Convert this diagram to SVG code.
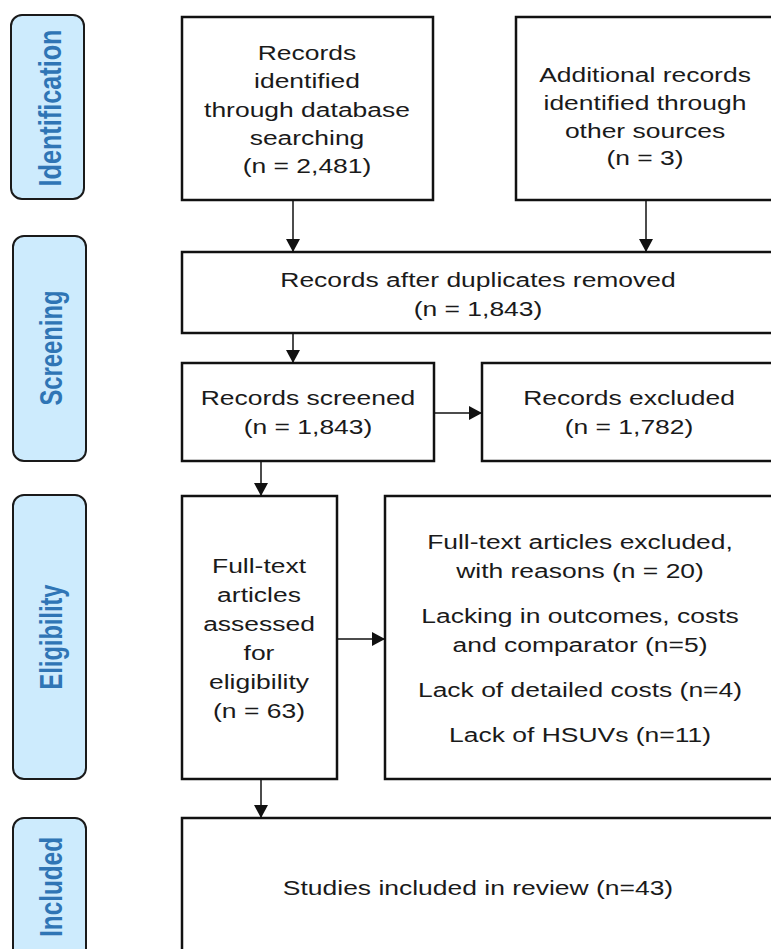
<svg xmlns="http://www.w3.org/2000/svg" width="771" height="949" viewBox="0 0 771 949">
<style>
.side{fill:#CDEBFD;stroke:#1a1a1a;stroke-width:2}
.stxt{font-family:"Liberation Sans",Arial,sans-serif;font-weight:bold;font-size:25px;fill:#2F75B5;text-anchor:middle}
.box{fill:#fff;stroke:#111;stroke-width:2.5}
.t{font-family:"Liberation Sans",Arial,sans-serif;font-size:21px;fill:#1a1a1a;text-anchor:middle}
.conn{stroke:#111;stroke-width:1.5;fill:none}
</style>
<defs>
<marker id="ah" markerUnits="userSpaceOnUse" markerWidth="13" markerHeight="14" refX="13" refY="7" orient="auto">
<path d="M0,0 L13,7 L0,14 z" fill="#111"/>
</marker>
</defs>
<rect width="771" height="949" fill="#fff"/>

<g id="side-identification">
<rect class="side" x="11" y="15" width="73" height="184" rx="11"/>
<text class="stxt" transform="translate(61,108) scale(1.26,1) rotate(-90)" textLength="157" lengthAdjust="spacingAndGlyphs">Identification</text>
</g>
<g id="side-screening">
<rect class="side" x="13" y="236" width="73" height="225" rx="11"/>
<text class="stxt" transform="translate(62,348) scale(1.26,1) rotate(-90)" textLength="115" lengthAdjust="spacingAndGlyphs">Screening</text>
</g>
<g id="side-eligibility">
<rect class="side" x="13" y="495" width="73" height="284" rx="11"/>
<text class="stxt" transform="translate(62,637) scale(1.26,1) rotate(-90)" textLength="105" lengthAdjust="spacingAndGlyphs">Eligibility</text>
</g>
<g id="side-included">
<rect class="side" x="13" y="818" width="73" height="150" rx="11"/>
<text class="stxt" transform="translate(62,887) scale(1.26,1) rotate(-90)" textLength="100" lengthAdjust="spacingAndGlyphs">Included</text>
</g>

<g id="db-records">
<rect class="box" x="182" y="17" width="251" height="183"/>
<g transform="matrix(1.26 0 0 1 307 0)">
<text class="t" x="0" y="60">Records</text>
<text class="t" x="0" y="88">identified</text>
<text class="t" x="0" y="117">through database</text>
<text class="t" x="0" y="145">searching</text>
<text class="t" x="0" y="173">(n = 2,481)</text>
</g>
</g>
<g id="other-records">
<rect class="box" x="516" y="17" width="270" height="183"/>
<g transform="matrix(1.26 0 0 1 645 0)">
<text class="t" x="0" y="82">Additional records</text>
<text class="t" x="0" y="110">identified through</text>
<text class="t" x="0" y="138">other sources</text>
<text class="t" x="0" y="165">(n = 3)</text>
</g>
</g>
<g id="dup-removed">
<rect class="box" x="182" y="252" width="604" height="81"/>
<g transform="matrix(1.26 0 0 1 478 0)">
<text class="t" x="0" y="287">Records after duplicates removed</text>
<text class="t" x="0" y="316">(n = 1,843)</text>
</g>
</g>
<g id="screened">
<rect class="box" x="182" y="363" width="252" height="98"/>
<g transform="matrix(1.26 0 0 1 308 0)">
<text class="t" x="0" y="405">Records screened</text>
<text class="t" x="0" y="434">(n = 1,843)</text>
</g>
</g>
<g id="excluded">
<rect class="box" x="482" y="363" width="304" height="98"/>
<g transform="matrix(1.26 0 0 1 629 0)">
<text class="t" x="0" y="405">Records excluded</text>
<text class="t" x="0" y="434">(n = 1,782)</text>
</g>
</g>
<g id="fulltext">
<rect class="box" x="182" y="496" width="155" height="283"/>
<g transform="matrix(1.26 0 0 1 259 0)">
<text class="t" x="0" y="573">Full-text</text>
<text class="t" x="0" y="602">articles</text>
<text class="t" x="0" y="631">assessed</text>
<text class="t" x="0" y="660">for</text>
<text class="t" x="0" y="689">eligibility</text>
<text class="t" x="0" y="718">(n = 63)</text>
</g>
</g>
<g id="ft-excluded">
<rect class="box" x="385" y="496" width="401" height="283"/>
<g transform="matrix(1.26 0 0 1 580 0)">
<text class="t" x="0" y="549">Full-text articles excluded,</text>
<text class="t" x="0" y="578">with reasons (n = 20)</text>
<text class="t" x="0" y="623">Lacking in outcomes, costs</text>
<text class="t" x="0" y="652">and comparator (n=5)</text>
<text class="t" x="0" y="697">Lack of detailed costs (n=4)</text>
<text class="t" x="0" y="742">Lack of HSUVs (n=11)</text>
</g>
</g>
<g id="included-studies">
<rect class="box" x="182" y="818" width="604" height="150"/>
<g transform="matrix(1.26 0 0 1 478 0)">
<text class="t" x="0" y="895">Studies included in review (n=43)</text>
</g>
</g>

<g id="connectors">
<line class="conn" x1="293" y1="200" x2="293" y2="252" marker-end="url(#ah)"/>
<line class="conn" x1="646" y1="200" x2="646" y2="252" marker-end="url(#ah)"/>
<line class="conn" x1="293" y1="333" x2="293" y2="363" marker-end="url(#ah)"/>
<line class="conn" x1="434" y1="413" x2="482" y2="413" marker-end="url(#ah)"/>
<line class="conn" x1="261" y1="461" x2="261" y2="496" marker-end="url(#ah)"/>
<line class="conn" x1="337" y1="639" x2="385" y2="639" marker-end="url(#ah)"/>
<line class="conn" x1="261" y1="779" x2="261" y2="818" marker-end="url(#ah)"/>
</g>
</svg>
